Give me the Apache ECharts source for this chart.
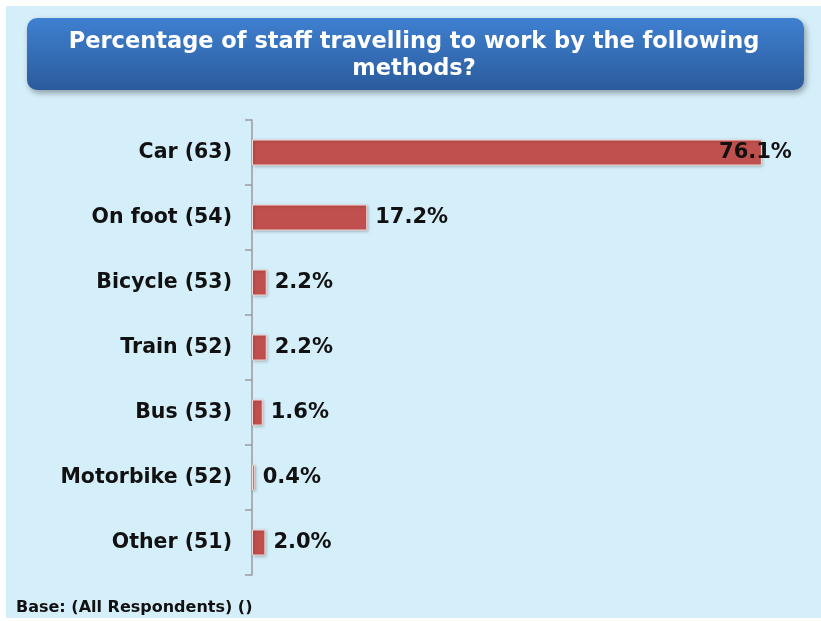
<!DOCTYPE html>
<html>
<head>
<meta charset="utf-8">
<script src="https://cdn.jsdelivr.net/npm/echarts@6/dist/echarts.min.js"></script>
<style>
  html, body { margin: 0; padding: 0; background: #ffffff; }
  #main { width: 821px; height: 621px; }
</style>
</head>
<body>
<div id="main"></div>
<script>
// categories top to bottom
var categories = ['Car (63)', 'On foot (54)', 'Bicycle (53)', 'Train (52)', 'Bus (53)', 'Motorbike (52)', 'Other (51)'];
var percentages = [76.1, 17.2, 2.2, 2.2, 1.6, 0.4, 2.0];
var titleLines = ['Percentage of staff travelling to work by the following', 'methods?'];
var footNote = 'Base: (All Respondents) ()';

var FONT = '"DejaVu Sans", Verdana, sans-serif';

var chart = echarts.init(document.getElementById('main'));

// build bar data, the long bar gets its label pulled in over the end
var barData = percentages.map(function (v, i) {
  var item = { value: v };
  if (v > 50) {
    item.label = { position: 'insideRight', offset: [38, 0] };
  }
  return item;
});

var option = {
  backgroundColor: '#ffffff',
  animation: false,
  graphic: [
    {
      type: 'rect',
      z: -10,
      shape: { x: 6, y: 6, width: 815, height: 612 },
      style: { fill: '#d5effa' }
    },
    {
      type: 'rect',
      shape: { x: 27, y: 18, width: 777, height: 72, r: 10 },
      style: {
        fill: new echarts.graphic.LinearGradient(0, 0, 0, 1, [
          { offset: 0, color: '#3e80d0' },
          { offset: 1, color: '#2b5b9c' }
        ]),
        shadowBlur: 6,
        shadowOffsetX: 2,
        shadowOffsetY: 3,
        shadowColor: 'rgba(0,0,0,0.35)'
      }
    },
    {
      type: 'text',
      x: 414,
      y: 29,
      style: {
        text: titleLines.join('\n'),
        fill: '#ffffff',
        font: 'bold 22.5px ' + FONT,
        align: 'center',
        lineHeight: 27
      }
    },
    {
      type: 'text',
      x: 16,
      y: 600,
      style: {
        text: footNote,
        fill: '#111111',
        font: 'bold 16px ' + FONT
      }
    }
  ],
  grid: {
    left: 252,
    top: 120,
    right: 33,
    bottom: 46
  },
  xAxis: {
    type: 'value',
    min: 0,
    max: 80,
    show: false
  },
  yAxis: {
    type: 'category',
    inverse: true,
    data: categories,
    axisLine: { show: true, lineStyle: { color: '#9a9a9a', width: 1.5 } },
    axisTick: { show: true, length: 7, lineStyle: { color: '#9a9a9a', width: 1.5 } },
    axisLabel: {
      color: '#111111',
      fontFamily: FONT,
      fontWeight: 'bold',
      fontSize: 20.5,
      margin: 20
    }
  },
  series: [{
    type: 'bar',
    data: barData,
    barWidth: 26,
    itemStyle: {
      color: '#c0504d',
      borderColor: '#f4d9d8',
      borderWidth: 1,
      shadowBlur: 3,
      shadowOffsetX: 1,
      shadowOffsetY: 1,
      shadowColor: 'rgba(0,0,0,0.25)'
    },
    label: {
      show: true,
      position: 'right',
      distance: 8,
      color: '#111111',
      fontFamily: FONT,
      fontWeight: 'bold',
      fontSize: 21,
      formatter: function (p) { return p.value.toFixed(1) + '%'; }
    }
  }]
};

chart.setOption(option);
</script>
</body>
</html>
